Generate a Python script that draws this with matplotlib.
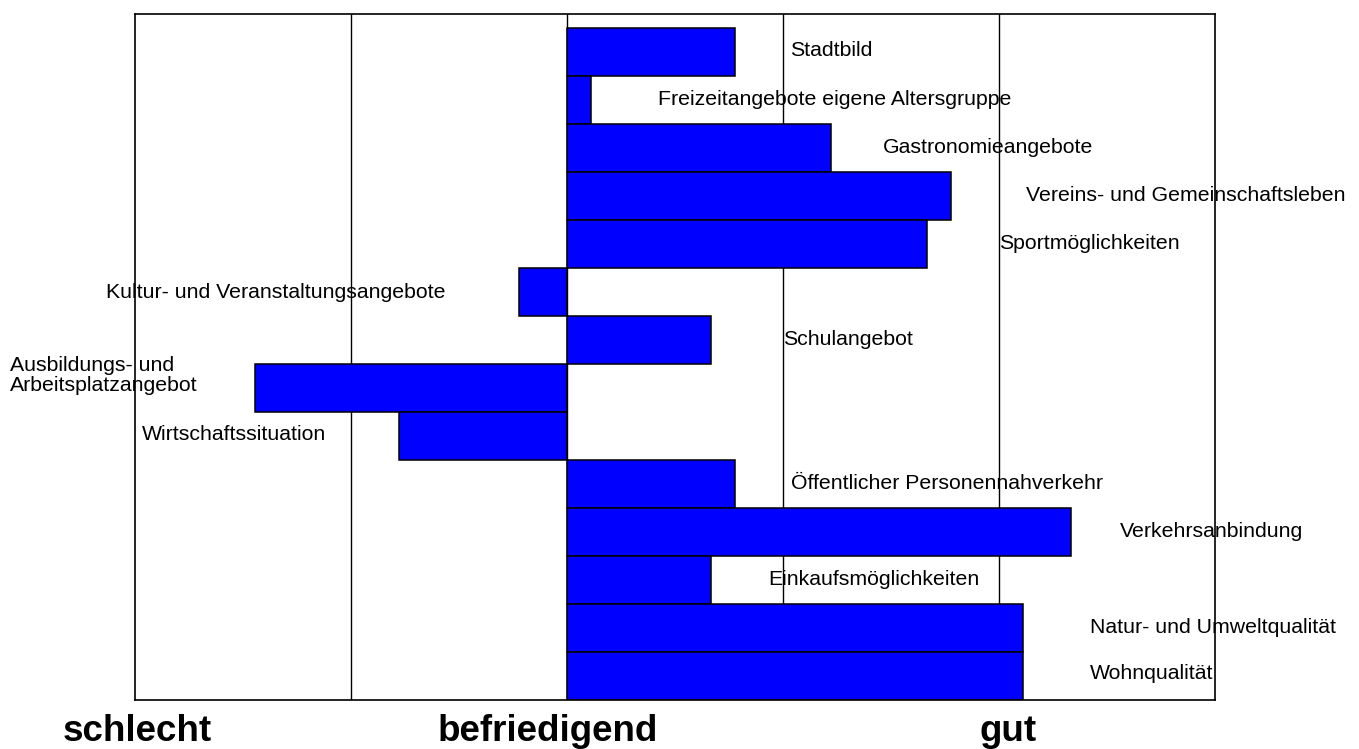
import matplotlib
matplotlib.use("Agg")
import matplotlib.pyplot as plt
import matplotlib.transforms as mtransforms

categories = [
    "Stadtbild",
    "Freizeitangebote eigene Altersgruppe",
    "Gastronomieangebote",
    "Vereins- und Gemeinschaftsleben",
    "Sportmöglichkeiten",
    "Kultur- und Veranstaltungsangebote",
    "Schulangebot",
    "Ausbildungs- und\nArbeitsplatzangebot",
    "Wirtschaftssituation",
    "Öffentlicher Personennahverkehr",
    "Verkehrsanbindung",
    "Einkaufsmöglichkeiten",
    "Natur- und Umweltqualität",
    "Wohnqualität",
]
values = [0.778, 0.111, 1.222, 1.778, 1.667, -0.222, 0.667,
          -1.444, -0.778, 0.778, 2.333, 0.667, 2.111, 2.111]

scale_labels = ["schlecht", "befriedigend", "gut"]

# label placement (layout only, in axis units)
label_x = [1.032, 0.421, 1.463, 2.125, 2.0, -2.134, 1.0,
           -2.579, -1.969, 1.037, 2.559, 0.931, 2.421, 2.421]
label_dy = [-0.04, -0.02, -0.02, -0.02, -0.02, 0.0, -0.02,
            -0.26, -0.04, -0.02, -0.02, -0.02, -0.02, -0.06]
scale_x = [-1.99, -0.088, 2.042]

plt.rcParams['font.family'] = ['Liberation Sans', 'DejaVu Sans']

fig = plt.figure(figsize=(13.59, 7.49), dpi=100)
ax = fig.add_axes([135 / 1359, 49 / 749, 1080 / 1359, 686 / 749])

ypos = list(range(len(categories)))
ax.barh(ypos, values, height=1.0, left=0, color="#0000FF",
        edgecolor="black", linewidth=1.1, zorder=2)

ax.set_xlim(-2, 3)
ax.set_ylim(13.5, -0.7917)
ax.set_xticks([-1, 0, 1, 2])
ax.set_yticks([])
ax.grid(axis="x", color="black", linewidth=1.0)
ax.set_axisbelow(True)
ax.tick_params(length=0, labelbottom=False, labelleft=False)
for s in ax.spines.values():
    s.set_color("black")
    s.set_linewidth(1.2)

for i, (lab, lx, dy) in enumerate(zip(categories, label_x, label_dy)):
    ax.text(lx, i + dy, lab, ha="left", va="center", fontsize=15.3,
            color="black", clip_on=False, zorder=3, linespacing=1.05)

trans = mtransforms.blended_transform_factory(ax.transData, ax.transAxes)
for lab, sx in zip(scale_labels, scale_x):
    ax.text(sx, -0.0595, lab, transform=trans, ha="center", va="baseline",
            fontsize=26.5, fontweight="bold", color="black", clip_on=False)

fig.savefig("out.png", dpi=100)
